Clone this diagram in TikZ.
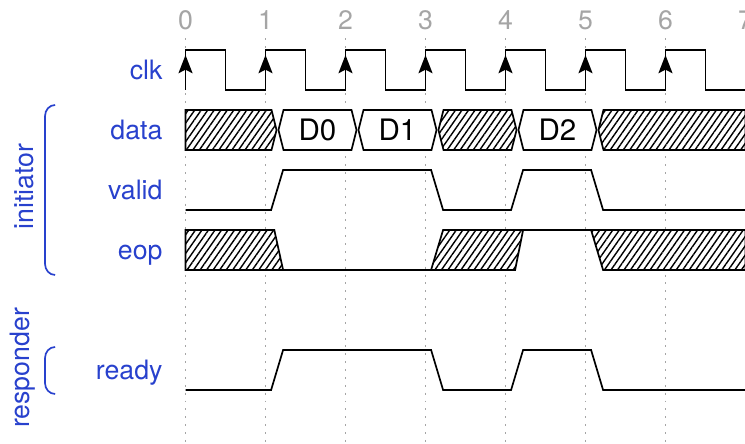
\documentclass[tikz,border=0pt]{standalone}
\usepackage{fontspec}
\setmainfont{TeX Gyre Heros}
\usetikzlibrary{arrows.meta,patterns.meta}
\definecolor{sigblue}{RGB}{40,65,205}
\definecolor{tickgray}{RGB}{165,165,165}

\begin{document}
\begin{tikzpicture}[
	font=\fontsize{9.5}{11}\selectfont,
	wave/.style={line width=0.6pt},
	dontcare/.style={wave,fill=white,postaction={pattern={Lines[angle=55,distance=1.9pt,line width=0.5pt]}}},
	gridline/.style={tickgray,line width=0.4pt,dash pattern=on 0.7pt off 2.1pt},
	edgearrow/.style={line width=0.6pt,-{Stealth[length=6.5pt,width=5pt,inset=1.3pt]}},
	siglabel/.style={text=sigblue,anchor=base east,inner sep=0pt},
	grouplabel/.style={text=sigblue,anchor=base,inner sep=0pt,rotate=90},
	groupbrace/.style={sigblue,line width=0.6pt}]
\useasboundingbox (-2.319,0) rectangle (6.994,-5.55);
\foreach \t in {0,...,7} {
	\draw[gridline] (\t,-0.48) -- (\t,-5.55);
	\node[text=tickgray,anchor=base,inner sep=0pt] (n\t) at (\t,-0.366) {\t};
}
\node[siglabel] (lclk) at (-0.281,-0.995) {clk};
\node[siglabel] (ldata) at (-0.281,-1.745) {data};
\node[siglabel] (lvalid) at (-0.281,-2.495) {valid};
\node[siglabel] (leop) at (-0.281,-3.245) {eop};
\node[siglabel] (lready) at (-0.281,-4.745) {ready};
\node[grouplabel] (linit) at (-1.906,-2.33) {initiator};
\node[grouplabel] (lresp) at (-1.956,-4.6) {responder};
\draw[groupbrace] (-1.63,-1.3125) to[out=180,in=90] (-1.756,-1.45) -- (-1.756,-3.3) to[out=-90,in=180] (-1.63,-3.4375);
\draw[groupbrace] (-1.63,-4.3375) to[out=180,in=90] (-1.756,-4.475) -- (-1.756,-4.79) to[out=-90,in=180] (-1.63,-4.925);
\draw[wave] (0,-1.125) \foreach \t in {0,...,6} {-- (\t,-0.625) -- (\t+0.5,-0.625) -- (\t+0.5,-1.125) -- (\t+1,-1.125)};
\foreach \t in {0,...,6}
	\draw[edgearrow] (\t,-1.125) -- (\t,-0.6875);
\draw[dontcare] (0,-1.375) -- (1.075,-1.375) -- (1.138,-1.625) -- (1.075,-1.875) -- (0,-1.875) -- cycle;
\draw[dontcare] (3.162,-1.625) -- (3.225,-1.375) -- (4.075,-1.375) -- (4.138,-1.625) -- (4.075,-1.875) -- (3.225,-1.875) -- cycle;
\draw[dontcare] (5.162,-1.625) -- (5.225,-1.375) -- (7,-1.375) -- (7,-1.875) -- (5.225,-1.875) -- cycle;
\foreach \a/\lbl in {1.15/D0,2.15/D1,4.15/D2}
	\draw[wave,fill=white] (\a+0.012,-1.625) -- (\a+0.075,-1.375) -- (\a+0.925,-1.375) -- (\a+0.988,-1.625) -- (\a+0.925,-1.875) -- (\a+0.075,-1.875) -- cycle
		node[name=\lbl,font=\fontsize{10.5}{12}\selectfont] at (\a+0.5,-1.625) {\lbl};
\draw[wave] (0,-2.625) -- (1.07,-2.625) -- (1.22,-2.125) -- (3.07,-2.125) -- (3.22,-2.625) -- (4.07,-2.625) -- (4.22,-2.125) -- (5.07,-2.125) -- (5.22,-2.625) -- (7,-2.625);
\draw[dontcare] (0,-2.875) -- (1.11,-2.875) -- (1.22,-3.375) -- (0,-3.375) -- cycle;
\draw[wave] (1.22,-3.375) -- (3.07,-3.375);
\draw[dontcare] (3.07,-3.375) -- (3.22,-2.875) -- (4.22,-2.875) -- (4.12,-3.375) -- cycle;
\draw[wave] (4.22,-2.875) -- (5.07,-2.875);
\draw[dontcare] (5.07,-2.875) -- (7,-2.875) -- (7,-3.375) -- (5.22,-3.375) -- cycle;
\draw[wave] (0,-4.875) -- (1.07,-4.875) -- (1.22,-4.375) -- (3.07,-4.375) -- (3.22,-4.875) -- (4.07,-4.875) -- (4.22,-4.375) -- (5.07,-4.375) -- (5.22,-4.875) -- (7,-4.875);
\end{tikzpicture}
\end{document}
